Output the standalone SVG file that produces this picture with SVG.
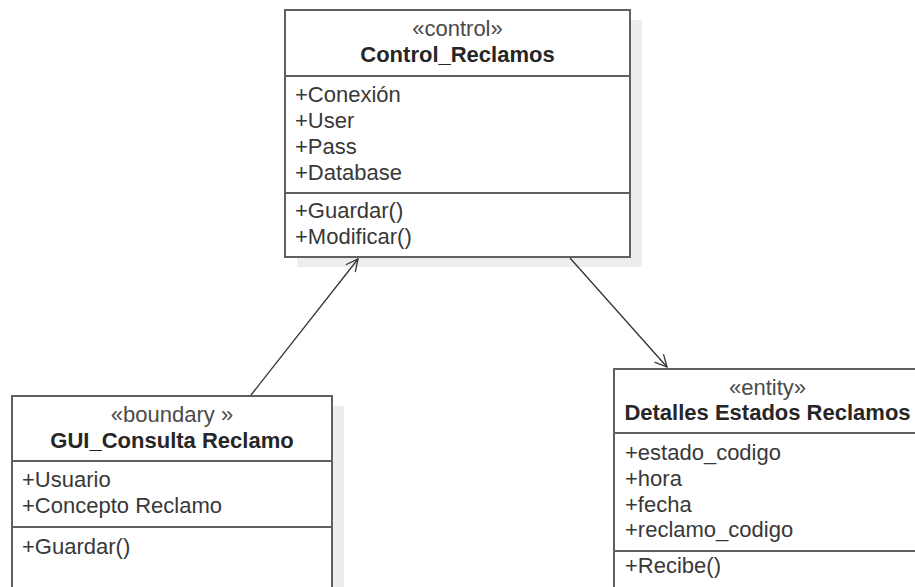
<svg xmlns="http://www.w3.org/2000/svg" width="915" height="587" viewBox="0 0 915 587">
<style>
.box{fill:#fff;stroke:#606060;stroke-width:2}
.shadow{fill:#ededed}
.div{stroke:#606060;stroke-width:2}
text{font-family:"Liberation Sans",Arial,sans-serif;font-size:22px;fill:#383838}
.st{text-anchor:middle;fill:#4a4a4a}
.ti{text-anchor:middle;font-weight:bold;fill:#262626}
.conn{stroke:#333;stroke-width:1.3;fill:none}
</style>
<defs>
<marker id="open" viewBox="0 0 14 14" refX="13" refY="7" markerWidth="14" markerHeight="14" markerUnits="userSpaceOnUse" orient="auto">
<path d="M1,1 L13,7 L1,13" fill="none" stroke="#333" stroke-width="1.3"/>
</marker>
</defs>
<rect width="915" height="587" fill="#fff"/>
<g id="Control_Reclamos">
<rect class="shadow" x="297" y="20" width="345" height="247"/>
<rect class="box" x="285" y="10" width="345" height="247"/>
<line class="div" x1="285" y1="76" x2="630" y2="76"/>
<line class="div" x1="285" y1="193" x2="630" y2="193"/>
<text class="st" x="457.5" y="36">«control»</text>
<text class="ti" x="457.5" y="62">Control_Reclamos</text>
<text x="295" y="101.5">+Conexión</text>
<text x="295" y="127.5">+User</text>
<text x="295" y="153.5">+Pass</text>
<text x="295" y="179.5">+Database</text>
<text x="295" y="218">+Guardar()</text>
<text x="295" y="244">+Modificar()</text>
</g>
<g id="GUI_Consulta_Reclamo">
<rect class="shadow" x="24" y="406" width="320" height="200"/>
<rect class="box" x="12" y="396" width="320" height="210"/>
<line class="div" x1="12" y1="461" x2="332" y2="461"/>
<line class="div" x1="12" y1="527" x2="332" y2="527"/>
<text class="st" x="172" y="422">«boundary »</text>
<text class="ti" x="172" y="448">GUI_Consulta Reclamo</text>
<text x="22" y="486.5">+Usuario</text>
<text x="22" y="512.5">+Concepto Reclamo</text>
<text x="22" y="554">+Guardar()</text>
</g>
<g id="Detalles_Estados_Reclamos">
<rect class="shadow" x="626" y="379" width="320" height="220"/>
<rect class="box" x="614" y="369" width="307" height="230"/>
<line class="div" x1="614" y1="433" x2="921" y2="433"/>
<line class="div" x1="614" y1="551" x2="921" y2="551"/>
<text class="st" x="767.5" y="395">«entity»</text>
<text class="ti" x="767.5" y="420">Detalles Estados Reclamos</text>
<text x="625" y="460">+estado_codigo</text>
<text x="625" y="486">+hora</text>
<text x="625" y="511.5">+fecha</text>
<text x="625" y="537">+reclamo_codigo</text>
<text x="625" y="573">+Recibe()</text>
</g>
<g id="connectors">
<line class="conn" x1="251" y1="395" x2="358" y2="259" marker-end="url(#open)"/>
<line class="conn" x1="570" y1="258" x2="667" y2="367" marker-end="url(#open)"/>
</g>
</svg>
